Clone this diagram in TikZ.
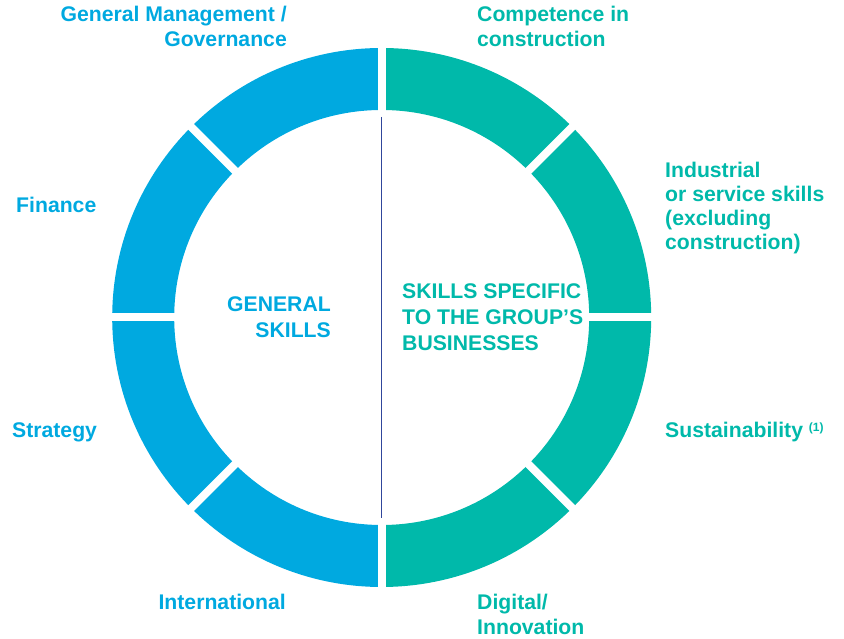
\documentclass[tikz,border=0pt]{standalone}
\usepackage{fontspec}
\setmainfont{Liberation Sans}
\usepackage{tikz}
\usetikzlibrary{positioning}

\definecolor{genblue}{RGB}{0,169,224}
\definecolor{bizteal}{RGB}{0,185,170}
\definecolor{divnavy}{RGB}{48,70,155}

\begin{document}
\begin{tikzpicture}[
  x=1pt, y=1pt,
  lbl/.style={inner sep=0pt, font=\fontsize{21.2}{25}\selectfont\bfseries},
  genlbl/.style={lbl, text=genblue, align=right, anchor=base east},
  bizlbl/.style={lbl, text=bizteal, align=left, anchor=base west},
  ring/.style={line width=62pt},
  gap/.style={white, line width=8pt},
]
\useasboundingbox (0,0) rectangle (844,639);
\coordinate (c) at (381.7,321.5);

% two halves of the ring
\draw[ring, genblue] (c) ++(90:238.5) arc[start angle=90, end angle=270, radius=238.5];
\draw[ring, bizteal] (c) ++(-90:238.5) arc[start angle=-90, end angle=90, radius=238.5];
\foreach \a in {0,45,...,315}
  \draw[gap] (c) -- ++(\a:285);

% divider
\coordinate (dtop) at (381.5,522);
\coordinate (dbot) at (381.5,121);
\draw[divnavy, line width=1.1pt] (dtop) -- (dbot);

% centre titles (base = last line)
\node[genlbl, font=\fontsize{21.2}{26}\selectfont\bfseries] (gen) at (331,301) {GENERAL\\SKILLS};
\node[bizlbl, font=\fontsize{21.2}{26}\selectfont\bfseries] (spec) at (402,288) {SKILLS SPECIFIC\\TO THE GROUP’S\\BUSINESSES};

% segment labels
\node[genlbl] (mgmt)  at (287,592) {General Management /\\Governance};
\node[bizlbl] (comp)  at (477,592) {Competence in\\construction};
\node[genlbl, align=left, anchor=base west] (fin) at (16,426) {Finance};
\node[bizlbl, font=\fontsize{21.2}{24}\selectfont\bfseries] (ind) at (665,389) {Industrial\\or service skills\\(excluding\\construction)};
\node[genlbl, align=left, anchor=base west] (strat) at (12,201) {Strategy};
\node[bizlbl] (sust)  at (665,201) {Sustainability {\fontsize{12}{12}\selectfont\raisebox{6pt}{(1)}}};
\node[genlbl] (intl)  at (286,29) {International};
\node[bizlbl] (dig)   at (477,4) {Digital/\\Innovation};
\end{tikzpicture}
\end{document}
